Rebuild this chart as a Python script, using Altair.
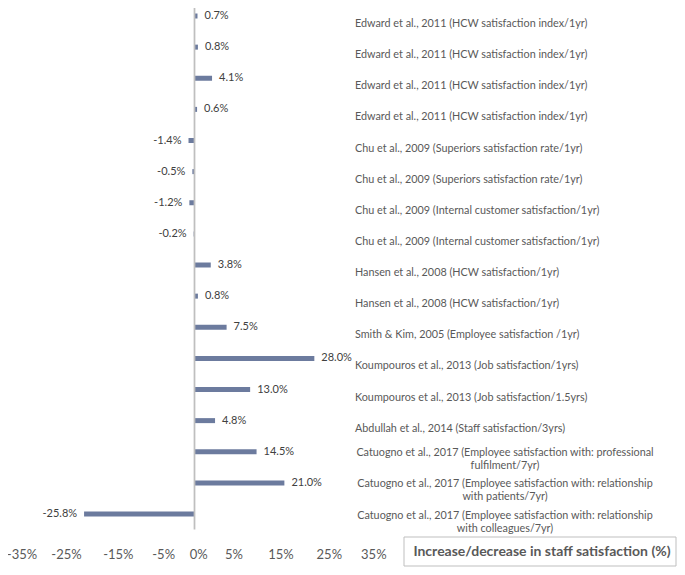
import altair as alt
import pandas as pd

categories = [
    "Edward et al., 2011 (HCW satisfaction index/1yr)",
    "Edward et al., 2011 (HCW satisfaction index/1yr)",
    "Edward et al., 2011 (HCW satisfaction index/1yr)",
    "Edward et al., 2011 (HCW satisfaction index/1yr)",
    "Chu et al., 2009 (Superiors satisfaction rate/1yr)",
    "Chu et al., 2009 (Superiors satisfaction rate/1yr)",
    "Chu et al., 2009 (Internal customer satisfaction/1yr)",
    "Chu et al., 2009 (Internal customer satisfaction/1yr)",
    "Hansen et al., 2008 (HCW satisfaction/1yr)",
    "Hansen et al., 2008 (HCW satisfaction/1yr)",
    "Smith & Kim, 2005 (Employee satisfaction /1yr)",
    "Koumpouros et al., 2013 (Job satisfaction/1yrs)",
    "Koumpouros et al., 2013 (Job satisfaction/1.5yrs)",
    "Abdullah et al., 2014 (Staff satisfaction/3yrs)",
    "Catuogno et al., 2017 (Employee satisfaction with: professional\nfulfilment/7yr)",
    "Catuogno et al., 2017 (Employee satisfaction with: relationship\nwith patients/7yr)",
    "Catuogno et al., 2017 (Employee satisfaction with: relationship\nwith colleagues/7yr)",
]
values = [0.7, 0.8, 4.1, 0.6, -1.4, -0.5, -1.2, -0.2, 3.8, 0.8, 7.5, 28.0, 13.0, 4.8, 14.5, 21.0, -25.8]

tick_labels = ["-35%", "-25%", "-15%", "-5%", "0%", "5%", "15%", "25%", "35%"]
tick_at = [-40.3, -29.9, -17.8, -7.2, 1.0, 9.2, 20.2, 31.5, 41.9]

title_text = "Increase/decrease in staff satisfaction (%)"

df = pd.DataFrame({"idx": list(range(len(categories))), "study": categories, "value": values})
df["multi"] = df["study"].str.contains("\n")
ticks = pd.DataFrame({"label": tick_labels, "at": tick_at})
one = pd.DataFrame({"k": [0]})

W, H = 669, 559
kx = 4.28
x0 = 186.5
xs = alt.Scale(domain=[-x0 / kx, (W - x0) / kx], nice=False, zero=False, padding=0)
ky = 31.125
ya = -8.0 / ky
ys = alt.Scale(domain=[ya, ya + H / ky], nice=False, zero=False, reverse=True, padding=0)

FONT = "Lato"
BAR = "#6C7B9E"

bars = alt.Chart(df).mark_bar(height=5, color=BAR, orient="horizontal").encode(
    x=alt.X("value:Q", scale=xs, axis=None),
    x2=alt.datum(0),
    y=alt.Y("idx:Q", scale=ys, axis=None),
)

zero = alt.Chart(one).mark_rule(color="#BFBFBF", strokeWidth=1.75).encode(
    x=alt.datum(0), y=alt.datum(ya), y2=alt.datum(16.5)
)

base_lbl = alt.Chart(df).transform_calculate(
    lbl="(datum.value < 0 ? '-' : '') + format(abs(datum.value), '.1f') + '%'"
)
pos_lbl = base_lbl.transform_filter("datum.value >= 0").mark_text(
    align="left", baseline="middle", dx=7, fontSize=11, font=FONT, color="#404040"
).encode(x="value:Q", y="idx:Q", text="lbl:N")
neg_lbl = base_lbl.transform_filter("datum.value < 0").mark_text(
    align="right", baseline="middle", dx=-7, fontSize=11, font=FONT, color="#404040"
).encode(x="value:Q", y="idx:Q", text="lbl:N")

cat_single = alt.Chart(df).transform_filter("!datum.multi").mark_text(
    align="left", baseline="middle", dy=8, fontSize=10.8, font=FONT, color="#595959"
).encode(x=alt.value(347), y="idx:Q", text="study:N")
cat_multi = alt.Chart(df).transform_filter("datum.multi").mark_text(
    align="center", baseline="middle", dy=1.5, fontSize=10.8, font=FONT, color="#595959",
    lineBreak="\n", lineHeight=13,
).encode(x=alt.value(497), y="idx:Q", text="study:N")

tick_txt = alt.Chart(ticks).mark_text(
    align="center", baseline="middle", fontSize=13, font=FONT, color="#595959"
).encode(x="at:Q", y=alt.value(547), text="label:N")

box = alt.Chart(one).mark_rect(fillOpacity=0, stroke="#BFBFBF", strokeWidth=1).encode(
    x=alt.value(396), x2=alt.value(668), y=alt.value(529), y2=alt.value(558)
)
box_txt = alt.Chart(one).mark_text(
    align="center", baseline="middle", fontSize=14, fontWeight="bold", font=FONT, color="#595959"
).encode(x=alt.value(534), y=alt.value(544), text=alt.value(title_text))

chart = alt.layer(
    bars, zero, pos_lbl, neg_lbl, cat_single, cat_multi, tick_txt, box, box_txt
).properties(
    width=W, height=H, padding=0, autosize=alt.AutoSizeParams(type="none")
).configure_view(strokeWidth=0)

chart.save("out.html", embed_options={"renderer": "svg", "actions": False})
